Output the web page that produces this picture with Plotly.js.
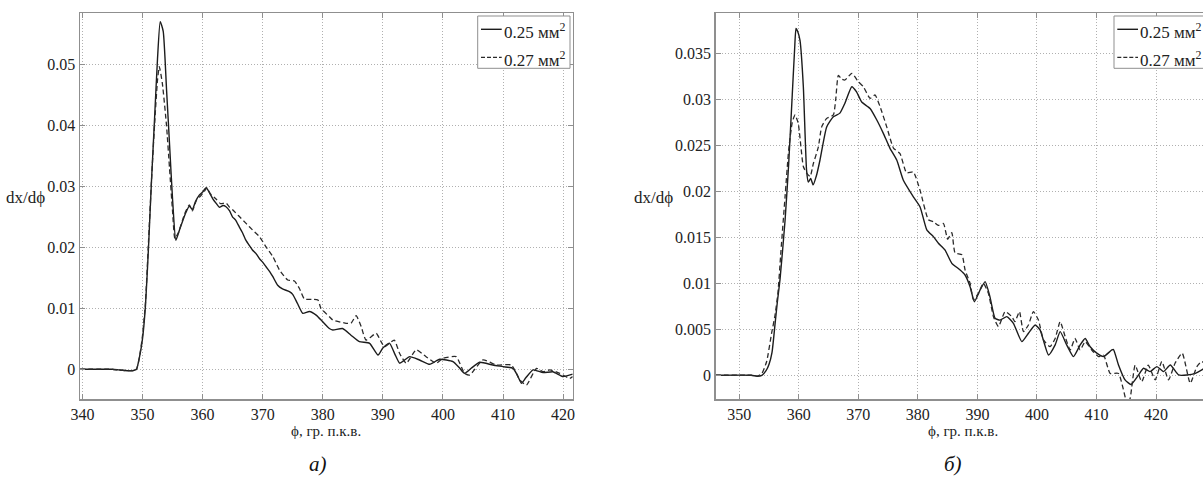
<!DOCTYPE html>
<html><head><meta charset="utf-8">
<script src="https://cdn.plot.ly/plotly-3.0.1.min.js"></script>
<style>html,body{margin:0;padding:0;overflow:hidden;background:#fff;} #chart{width:1230px;height:477px;}</style>
</head><body><div id="chart"></div><script>
// ---- data ----
var seriesNames = ["0.25 мм<sup>2</sup>", "0.27 мм<sup>2</sup>"];
var captions = ["а)", "б)"];
var xTitle = "ϕ, гр. п.к.в.";
var yTitle = "dx/dϕ";

// panel a)
var phiA_025 = [339.6,345,346,347,348.5,349,349.5,350,350.5,351,351.5,352,352.5,352.95,353.45,354,354.5,355,355.55,356.2,357.2,357.8,358.3,358.8,359.45,360,360.6,361.2,361.7,362.3,362.8,363.4,363.9,364.5,365,365.5,366.1,366.6,367.2,367.8,368.3,368.9,369.45,370,370.6,371.2,371.7,372.5,373.3,374.45,375,375.8,376.67,377.78,378.9,380,381.1,381.67,383.3,384.7,386.1,387.8,389.2,390,391.1,392,392.8,393.6,394.45,396.1,397.8,399.45,401.67,402.7,403.6,404.7,406.1,408.3,410,411.67,412.4,413.06,413.8,415,416.67,418.3,420,421.6];
var dxA_025 = [0,0,-0.0001,-0.0002,-0.0002,0,0.002,0.005,0.0105,0.02,0.031,0.041,0.051,0.0571,0.0555,0.046,0.037,0.028,0.0212,0.023,0.0257,0.0268,0.0262,0.0275,0.0286,0.0291,0.0298,0.0289,0.028,0.0272,0.0266,0.0269,0.0267,0.026,0.025,0.0245,0.0234,0.0225,0.0212,0.0203,0.0196,0.019,0.0182,0.0176,0.0168,0.016,0.0152,0.0138,0.0132,0.01275,0.0123,0.0108,0.0092,0.0095,0.0089,0.0078,0.0067,0.00645,0.0067,0.0056,0.00454,0.00427,0.00235,0.0035,0.0043,0.0025,0.001,0.0015,0.00207,0.00153,0.00082,0.00164,0.00125,0.0003,-0.00066,0.00016,0.00115,0.0007,0.00043,0.00016,-0.001,-0.0023,-0.0014,-0.0001,-0.00055,-0.0004,-0.0012,-0.0008];
var phiA_027 = [339.6,345,346,347,348.5,349,349.5,350,350.5,351,351.5,352,352.5,352.8,353.3,354,354.5,355,355.4,356,357,357.8,358.3,359,359.7,360.3,360.7,361.3,362.2,363,363.9,364.5,365,366,367.2,368.3,369.45,370.5,371.7,372.8,374.17,375.28,376.1,376.95,378.3,379.2,379.7,381.1,381.67,383.9,384.7,385.56,386.4,387.2,388.9,389.7,390.3,391.9,392.8,393.9,395.56,397.2,398.9,400,402.2,403.6,404.45,406.67,408.9,411.4,412.8,413.9,415.56,416.67,417.8,419.45,421.1,421.6];
var dxA_027 = [0,0,-0.0001,-0.0002,-0.0002,0,0.002,0.0055,0.011,0.021,0.031,0.04,0.0475,0.0497,0.047,0.04,0.033,0.026,0.0215,0.0225,0.0255,0.027,0.026,0.0278,0.0285,0.0292,0.0298,0.0288,0.028,0.0272,0.0273,0.0266,0.0262,0.0252,0.024,0.0229,0.0218,0.0202,0.0185,0.0163,0.01466,0.0145,0.0133,0.01154,0.01149,0.01138,0.01,0.00864,0.0081,0.00755,0.00755,0.0088,0.007,0.0048,0.0059,0.00454,0.0037,0.0048,0.0026,0.001,0.0032,0.00207,0.001,0.0018,0.00207,-0.00066,-0.00094,0.00153,0.0007,0.0007,-0.00176,-0.00258,0.00016,-0.0004,-0.0001,-0.00066,-0.0015,-0.0012];

// panel б)
var phiB_025 = [346,352,353,353.8,354.5,355,355.5,356,356.4,356.84,357.7,358.3,358.9,359.3,359.53,359.8,360.2,360.76,361.3,361.6,362,362.4,363,363.56,364.68,365.8,366.9,367.76,368.9,369.7,370.57,371.97,373.1,374.2,375.3,376.45,377.56,379.24,380.37,381.5,382.6,383.45,384.57,385.7,387.1,387.93,388.77,389.5,390.45,391.3,392.1,392.97,393.8,394.94,396.05,397.46,398.57,399.7,400.54,401.94,403.06,403.9,405,406.13,407.26,408.1,408.94,410.06,411.18,412.58,412.86,413.7,414.8,415.8,417.06,417.9,419,420.15,421.26,422.4,423.8,425.2,426.6,427.7,429.1];
var dxB_025 = [0,0,-0.0001,0,0.0005,0.0012,0.0025,0.0055,0.008,0.0104,0.0169,0.023,0.0305,0.0355,0.0377,0.0374,0.0364,0.0314,0.0223,0.021,0.0214,0.0207,0.0218,0.0234,0.027,0.0281,0.0285,0.0296,0.03137,0.0308,0.0297,0.029,0.02775,0.0263,0.0247,0.0234,0.0212,0.0194,0.0183,0.0158,0.01507,0.01435,0.0136,0.01217,0.01145,0.0109,0.00963,0.008,0.00927,0.01018,0.00855,0.0062,0.006,0.00637,0.00565,0.00366,0.00457,0.00547,0.00492,0.0022,0.0033,0.00474,0.0033,0.00203,0.0033,0.004,0.0031,0.0024,0.00203,0.00275,0.0028,0.00112,-0.0005,-0.001,0.00003,0.00076,0.0004,0.00094,0.0004,0.00112,0.00003,0.00003,0.0002,0.00058,0.0012];
var phiB_027 = [346,352,353,353.8,354.6,355.44,356,356.5,357,357.7,358.3,358.9,359.36,359.9,360.76,361.3,361.9,362.44,363.28,363.84,364.68,365.8,366.2,366.64,367.2,367.76,368.9,370,370.84,371.97,372.8,373.65,374.77,375.9,377,378.1,379.24,380.37,381.77,382.6,383.45,384.3,385,385.7,386.25,387.4,387.93,388.77,389.33,390.17,391,391.85,392.7,393.53,394.66,395.78,396.3,397.06,397.73,398.57,399.4,400.25,401.1,402.2,403.06,403.9,404.74,405.58,406.4,407.26,408.1,409.2,410.34,411.18,412.3,413.7,415.2,415.66,416.5,417.6,418.7,419.86,420.98,422.1,423.2,424.4,425.75,426.87,427.7,429.1];
var dxB_027 = [0,0,-0.0001,0.0002,0.0015,0.0046,0.0065,0.009,0.0135,0.0195,0.0245,0.0275,0.0283,0.0274,0.0227,0.022,0.0216,0.023,0.0248,0.027,0.02793,0.0283,0.03,0.0326,0.0322,0.0321,0.03283,0.0319,0.03137,0.0301,0.03047,0.0292,0.027,0.0247,0.0241,0.022,0.0221,0.0201,0.0169,0.0167,0.0163,0.0165,0.0148,0.0155,0.0133,0.0131,0.01145,0.01,0.0082,0.0089,0.01,0.0089,0.00637,0.00529,0.00692,0.00637,0.00583,0.00692,0.00474,0.00547,0.00692,0.006,0.00384,0.00311,0.004,0.00583,0.0042,0.00275,0.004,0.00275,0.00366,0.00275,0.00203,0.0022,0.0002,0.0002,-0.0032,-0.0025,0.0011,-0.0007,0.0011,-0.0005,0.0015,-0.0005,0.0013,0.0024,-0.00087,0.00094,0.0015,0.0005];

// ticks
var xTicksA = [340,350,360,370,380,390,400,410,420];
var yTicksA = [0,0.01,0.02,0.03,0.04,0.05];
var yTickTextA = ["0","0.01","0.02","0.03","0.04","0.05"];
var xTicksB = [350,360,370,380,390,400,410,420];
var yTicksB = [0,0.005,0.01,0.015,0.02,0.025,0.03,0.035];
var yTickTextB = ["0","0.005","0.01","0.015","0.02","0.025","0.03","0.035"];

// ---- layout helpers (pixel -> paper) ----
var W = 1230, H = 477;
function X(p){ return p / W; }
function Y(p){ return 1 - p / H; }
var FONT = "Liberation Serif";
var FRAME = "#8f8f8f";
var TXT = "#222";

function axisX(ticks, range, dom, anchor){
  return {domain:[X(dom[0]),X(dom[1])], range:range, anchor:anchor,
    tickvals:ticks, ticktext:ticks.map(String), showline:true, mirror:"ticks", linecolor:FRAME, linewidth:1.5,
    ticks:"inside", ticklen:5, tickcolor:FRAME, showgrid:true, gridcolor:"#b0b0b0", griddash:"1px,2px", gridwidth:1,
    zeroline:false, ticklabelstandoff:0, tickfont:{family:FONT,size:16,color:TXT}};
}
function axisY(ticks, text, range, anchor){
  return {domain:[Y(399),Y(13.3)], range:range, anchor:anchor,
    tickvals:ticks, ticktext:text, showline:true, mirror:"ticks", linecolor:FRAME, linewidth:1.5,
    ticks:"inside", ticklen:5, tickcolor:FRAME, showgrid:true, gridcolor:"#b0b0b0", griddash:"1px,2px", gridwidth:1,
    zeroline:false, ticklabelstandoff:0, tickfont:{family:FONT,size:16,color:TXT}};
}

var solid = {color:"#1c1c1c", width:1.4, shape:"spline", smoothing:0.5};
var dashed = {color:"#2a2a2a", width:1.3, dash:"5px,3px", shape:"spline", smoothing:0.5};

var traces = [
  {x:phiA_025, y:dxA_025, xaxis:"x", yaxis:"y", mode:"lines", line:solid, name:seriesNames[0], showlegend:false},
  {x:phiA_027, y:dxA_027, xaxis:"x", yaxis:"y", mode:"lines", line:dashed, name:seriesNames[1], showlegend:false},
  {x:phiB_025, y:dxB_025, xaxis:"x2", yaxis:"y2", mode:"lines", line:solid, name:seriesNames[0], showlegend:false},
  {x:phiB_027, y:dxB_027, xaxis:"x2", yaxis:"y2", mode:"lines", line:dashed, name:seriesNames[1], showlegend:false}
];

function legend(left){
  var shapes = [
    {type:"rect", xref:"paper", yref:"paper", x0:X(left), x1:X(left+92.3), y0:Y(68.3), y1:Y(16), line:{color:FRAME,width:1}, fillcolor:"#fff", layer:"above"},
    {type:"line", xref:"paper", yref:"paper", x0:X(left+3.3), x1:X(left+24), y0:Y(29.3), y1:Y(29.3), line:{color:"#1c1c1c",width:1.4}, layer:"above"},
    {type:"line", xref:"paper", yref:"paper", x0:X(left+3.3), x1:X(left+24), y0:Y(57.3), y1:Y(57.3), line:{color:"#2a2a2a",width:1.3,dash:"4px,2px"}, layer:"above"}
  ];
  var anns = [
    {xref:"paper", yref:"paper", x:X(left+24), y:Y(31), xanchor:"left", yanchor:"middle", text:seriesNames[0], showarrow:false, font:{family:FONT,size:17,color:TXT}},
    {xref:"paper", yref:"paper", x:X(left+24), y:Y(59), xanchor:"left", yanchor:"middle", text:seriesNames[1], showarrow:false, font:{family:FONT,size:17,color:TXT}}
  ];
  return {shapes:shapes, anns:anns};
}
var lgA = legend(477.7), lgB = legend(1114);

var annotations = [
  {xref:"paper", yref:"paper", x:X(47), y:Y(197), xanchor:"right", yanchor:"middle", text:yTitle, showarrow:false, font:{family:FONT,size:17,color:TXT}},
  {xref:"paper", yref:"paper", x:X(675), y:Y(197), xanchor:"right", yanchor:"middle", text:yTitle, showarrow:false, font:{family:FONT,size:17,color:TXT}},
  {xref:"paper", yref:"paper", x:X(326), y:Y(431), xanchor:"center", yanchor:"middle", text:xTitle, showarrow:false, font:{family:FONT,size:15,color:TXT}},
  {xref:"paper", yref:"paper", x:X(963), y:Y(431), xanchor:"center", yanchor:"middle", text:xTitle, showarrow:false, font:{family:FONT,size:15,color:TXT}},
  {xref:"paper", yref:"paper", x:X(318), y:Y(464), xanchor:"center", yanchor:"middle", text:"<i>"+captions[0]+"</i>", showarrow:false, font:{family:FONT,size:21,color:"#111"}},
  {xref:"paper", yref:"paper", x:X(953), y:Y(464), xanchor:"center", yanchor:"middle", text:"<i>"+captions[1]+"</i>", showarrow:false, font:{family:FONT,size:21,color:"#111"}}
].concat(lgA.anns, lgB.anns);

var layout = {
  width:W, height:H, margin:{l:0,r:0,t:0,b:0}, paper_bgcolor:"#fff", plot_bgcolor:"#fff",
  showlegend:false,
  font:{family:FONT, color:TXT},
  xaxis: axisX(xTicksA, [339.6,421.6], [80,572.7], "y"),
  yaxis: axisY(yTicksA, yTickTextA, [-0.00488,0.05846], "x"),
  xaxis2: axisX(xTicksB, [346.04,429.07], [715.7,1210], "y2"),
  yaxis2: axisY(yTicksB, yTickTextB, [-0.00258,0.03935], "x2"),
  shapes: lgA.shapes.concat(lgB.shapes),
  annotations: annotations
};

Plotly.newPlot("chart", traces, layout, {staticPlot:true, displayModeBar:false});
</script></body></html>
